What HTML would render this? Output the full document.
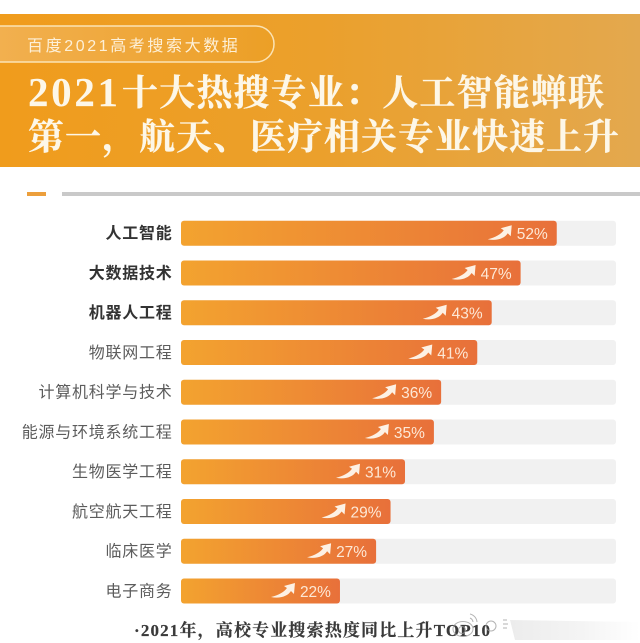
<!DOCTYPE html>
<html lang="zh">
<head>
<meta charset="utf-8">
<title>2021十大热搜专业</title>
<style>
html,body{margin:0;padding:0;background:#fff;width:640px;height:643px;overflow:hidden}
svg{display:block}
.sans{font-family:"Liberation Sans","Noto Sans CJK SC",sans-serif}
.serif{font-family:"Liberation Serif","Noto Serif CJK SC",serif}
</style>
</head>
<body>
<svg id="chart" xmlns="http://www.w3.org/2000/svg" width="640" height="643" viewBox="0 0 640 643">
  <defs>
    <linearGradient id="headerGrad" x1="0" y1="0" x2="1" y2="0">
      <stop offset="0" stop-color="#f09c1c"/>
      <stop offset="0.5" stop-color="#eba02c"/>
      <stop offset="1" stop-color="#e3a84e"/>
    </linearGradient>
    <linearGradient id="pillGrad" x1="0" y1="0" x2="1" y2="0">
      <stop offset="0" stop-color="#f2b152"/>
      <stop offset="1" stop-color="#ec9f26"/>
    </linearGradient>
    <linearGradient id="barGrad" x1="0" y1="0" x2="1" y2="0">
      <stop offset="0" stop-color="#f3a32f"/>
      <stop offset="1" stop-color="#e8703a"/>
    </linearGradient>
    <linearGradient id="cornerGrad" x1="0" y1="0" x2="1" y2="0">
      <stop offset="0" stop-color="#ececec"/>
      <stop offset="0.55" stop-color="#f4f4f4"/>
      <stop offset="1" stop-color="#ffffff"/>
    </linearGradient>
  </defs>

  <rect x="0" y="14" width="640" height="153" fill="url(#headerGrad)"/>
  <path d="M-20 26H256a18 18 0 0 1 0 36H-20Z" fill="url(#pillGrad)" stroke="#fbe3b4" stroke-width="1.5"/>
  <text class="sans" x="27" y="51" font-size="16" letter-spacing="2.6" fill="#fdf0d8">百度2021高考搜索大数据</text>
  <text class="serif" x="28" y="106" font-size="41" font-weight="700" fill="#fdf7e8" textLength="90" lengthAdjust="spacing">2021</text>
  <text class="serif" x="122" y="105" font-size="36" font-weight="700" fill="#fdf7e8" stroke="#fdf7e8" stroke-width="0.3" textLength="482" lengthAdjust="spacing">十大热搜专业&#xFF1A;人工智能蝉联</text>
  <text class="serif" x="28" y="149" font-size="36" font-weight="700" fill="#fdf7e8" stroke="#fdf7e8" stroke-width="0.3" textLength="591" lengthAdjust="spacing">第一&#xFF0C;航天、医疗相关专业快速上升</text>

  <rect x="27" y="192" width="19" height="4" fill="#ec9f3c"/>
  <rect x="62" y="192" width="578" height="4" fill="#c9c9c9"/>

  <g id="bars"></g>

  <path d="M510 620L640 622V640H515Z" fill="url(#cornerGrad)"/>
  <text class="serif" x="134" y="636" font-size="17" font-weight="700" fill="#3a3a3a" stroke="#3a3a3a" stroke-width="0.2" textLength="356" lengthAdjust="spacing">·2021年&#xFF0C;高校专业搜索热度同比上升TOP10</text>
  <g fill="none" stroke="#9a9a9a" stroke-width="1" opacity="0.75">
    <ellipse cx="463" cy="629" rx="10" ry="7.5"/>
    <circle cx="462" cy="630" r="3.5"/>
    <path d="M470 614a9 9 0 0 1 7 8M470 618a5 5 0 0 1 3 4"/>
    <circle cx="491" cy="626" r="5"/>
    <path d="M503 620h4M503 624h5M503 628h4"/>
  </g>

  <script>
    const categories = ['人工智能', '大数据技术', '机器人工程', '物联网工程', '计算机科学与技术', '能源与环境系统工程', '生物医学工程', '航空航天工程', '临床医学', '电子商务'];
    const growthValues = [52, 47, 43, 41, 36, 35, 31, 29, 27, 22];
    const valueLabels = ['52%', '47%', '43%', '41%', '36%', '35%', '31%', '29%', '27%', '22%'];
    const axisMax = 60.2;

    const NS = 'http://www.w3.org/2000/svg';
    const host = document.getElementById('bars');
    const xLeft = 181, xRight = 616, rowTop = 233.2, rowStep = 39.75, barH = 25;
    const xScale = function (v) { return xLeft + (v / axisMax) * (xRight - xLeft); };
    const yScale = function (i) { return rowTop + i * rowStep; };
    function make(tag, props) {
      const el = document.createElementNS(NS, tag);
      Object.keys(props).forEach(function (k) { el.setAttribute(k, props[k]); });
      return el;
    }
    categories.forEach(function (name, i) {
      const cy = yScale(i);
      const top = cy - barH / 2;
      const end = xScale(growthValues[i]);

      const track = make('rect', { x: xLeft, y: top, width: xRight - xLeft, height: barH, rx: 3, fill: '#f1f1f1' });
      
      
      host.appendChild(track);

      const bar = make('rect', { x: xLeft, y: top, width: end - xLeft, height: barH, rx: 3, fill: 'url(#barGrad)' });
      
      
      host.appendChild(bar);

      const label = make('text', {
        class: 'sans', x: 172.5, y: cy + 5.5, 'text-anchor': 'end', 'font-size': 16,
        'letter-spacing': 0.75, 'font-weight': i < 3 ? 700 : 400, fill: i < 3 ? '#333333' : '#5c5c5c'
      });
      label.textContent = name;
      
      
      host.appendChild(label);

      const ax = end - 45;
      const arrow = make('path', {
        d: 'M' + (ax - 24) + ' ' + (cy + 6) + 'C' + (ax - 16) + ' ' + (cy + 4) + ' ' + (ax - 11) + ' ' + (cy + 1) + ' ' + (ax - 8) + ' ' + (cy - 3) +
           'L' + (ax - 11) + ' ' + (cy - 5) + 'L' + ax + ' ' + (cy - 8) + 'L' + (ax - 1) + ' ' + (cy + 3) + 'L' + (ax - 4) + ' ' + (cy) +
           'C' + (ax - 7) + ' ' + (cy + 5) + ' ' + (ax - 15) + ' ' + (cy + 8) + ' ' + (ax - 24) + ' ' + (cy + 6) + 'Z',
        fill: '#fdf1e4'
      });
      
      
      host.appendChild(arrow);

      const value = make('text', {
        class: 'sans', x: end - 9, y: cy + 6, 'text-anchor': 'end', 'font-size': 15.5, fill: '#fde8d6'
      });
      value.textContent = valueLabels[i];
      
      
      host.appendChild(value);
    });
  </script>
</svg>
</body>
</html>
